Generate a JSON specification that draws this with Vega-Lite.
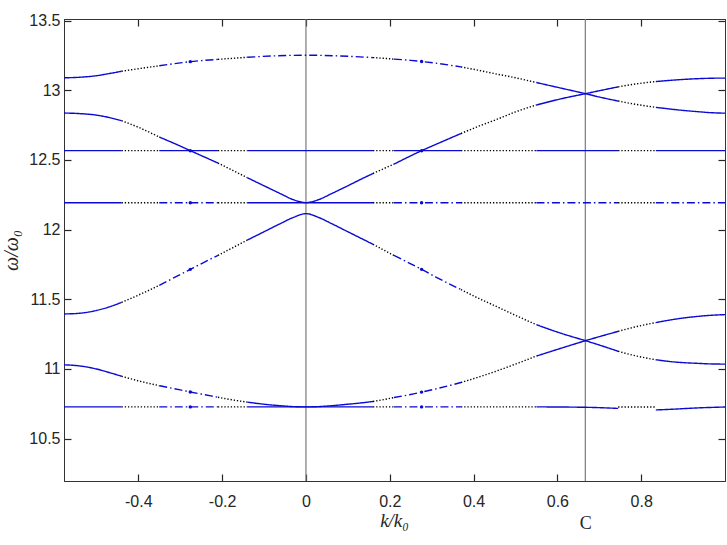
{
  "$schema": "https://vega.github.io/schema/vega-lite/v6.json",
  "width": 661,
  "height": 462,
  "autosize": {"type": "none"},
  "padding": {"left": 64, "top": 19, "right": 2, "bottom": 64},
  "background": "white",
  "datasets": {
    "bands": [
      {"c":"T","s":0,"m":"a","k":-0.57735,"w":13.090},{"c":"T","s":0,"m":"a","k":-0.54,"w":13.094},{"c":"T","s":0,"m":"a","k":-0.50,"w":13.105},{"c":"T","s":0,"m":"a","k":-0.47,"w":13.120},{"c":"T","s":0,"m":"a","k":-0.44,"w":13.137},
      {"c":"T","s":1,"m":"c","k":-0.44,"w":13.137},{"c":"T","s":1,"m":"c","k":-0.40,"w":13.155},{"c":"T","s":1,"m":"c","k":-0.35,"w":13.176},
      {"c":"T","s":2,"m":"b","k":-0.35,"w":13.176},{"c":"T","s":2,"m":"b","k":-0.30,"w":13.197},{"c":"T","s":2,"m":"b","k":-0.276,"w":13.206},{"c":"T","s":2,"m":"b","k":-0.25,"w":13.213},{"c":"T","s":2,"m":"b","k":-0.21,"w":13.222},
      {"c":"T","s":3,"m":"c","k":-0.21,"w":13.222},{"c":"T","s":3,"m":"c","k":-0.175,"w":13.230},{"c":"T","s":3,"m":"c","k":-0.14,"w":13.237},
      {"c":"T","s":4,"m":"b","k":-0.14,"w":13.237},{"c":"T","s":4,"m":"b","k":-0.07,"w":13.248},{"c":"T","s":4,"m":"b","k":0,"w":13.252},{"c":"T","s":4,"m":"b","k":0.07,"w":13.248},{"c":"T","s":4,"m":"b","k":0.16,"w":13.235},
      {"c":"T","s":5,"m":"c","k":0.16,"w":13.235},{"c":"T","s":5,"m":"c","k":0.185,"w":13.230},{"c":"T","s":5,"m":"c","k":0.21,"w":13.224},
      {"c":"T","s":6,"m":"b","k":0.21,"w":13.224},{"c":"T","s":6,"m":"b","k":0.25,"w":13.215},{"c":"T","s":6,"m":"b","k":0.276,"w":13.207},{"c":"T","s":6,"m":"b","k":0.31,"w":13.195},{"c":"T","s":6,"m":"b","k":0.37,"w":13.168},
      {"c":"T","s":7,"m":"c","k":0.37,"w":13.168},{"c":"T","s":7,"m":"c","k":0.41,"w":13.145},{"c":"T","s":7,"m":"c","k":0.45,"w":13.120},{"c":"T","s":7,"m":"c","k":0.50,"w":13.090},{"c":"T","s":7,"m":"c","k":0.55,"w":13.056},
      {"c":"T","s":8,"m":"a","k":0.55,"w":13.056},{"c":"T","s":8,"m":"a","k":0.61,"w":13.015},{"c":"T","s":8,"m":"a","k":0.667,"w":12.976},{"c":"T","s":8,"m":"a","k":0.70,"w":12.952},{"c":"T","s":8,"m":"a","k":0.745,"w":12.923},
      {"c":"T","s":9,"m":"c","k":0.745,"w":12.923},{"c":"T","s":9,"m":"c","k":0.79,"w":12.898},{"c":"T","s":9,"m":"c","k":0.835,"w":12.878},
      {"c":"T","s":10,"m":"a","k":0.835,"w":12.878},{"c":"T","s":10,"m":"a","k":0.88,"w":12.862},{"c":"T","s":10,"m":"a","k":0.93,"w":12.848},{"c":"T","s":10,"m":"a","k":0.97,"w":12.839},{"c":"T","s":10,"m":"a","k":1.0,"w":12.836},

      {"c":"B2","s":0,"m":"a","k":-0.57735,"w":12.837},{"c":"B2","s":0,"m":"a","k":-0.54,"w":12.833},{"c":"B2","s":0,"m":"a","k":-0.50,"w":12.822},{"c":"B2","s":0,"m":"a","k":-0.47,"w":12.805},{"c":"B2","s":0,"m":"a","k":-0.44,"w":12.782},
      {"c":"B2","s":1,"m":"c","k":-0.44,"w":12.782},{"c":"B2","s":1,"m":"c","k":-0.40,"w":12.735},{"c":"B2","s":1,"m":"c","k":-0.35,"w":12.665},
      {"c":"B2","s":2,"m":"a","k":-0.35,"w":12.665},{"c":"B2","s":2,"m":"a","k":-0.30,"w":12.600},{"c":"B2","s":2,"m":"a","k":-0.276,"w":12.567},{"c":"B2","s":2,"m":"a","k":-0.25,"w":12.532},{"c":"B2","s":2,"m":"a","k":-0.21,"w":12.478},
      {"c":"B2","s":3,"m":"c","k":-0.21,"w":12.478},{"c":"B2","s":3,"m":"c","k":-0.175,"w":12.426},{"c":"B2","s":3,"m":"c","k":-0.14,"w":12.373},
      {"c":"B2","s":4,"m":"a","k":-0.14,"w":12.373},{"c":"B2","s":4,"m":"a","k":-0.10,"w":12.315},{"c":"B2","s":4,"m":"a","k":-0.06,"w":12.257},{"c":"B2","s":4,"m":"a","k":-0.03,"w":12.215},{"c":"B2","s":4,"m":"a","k":0,"w":12.194},{"c":"B2","s":4,"m":"a","k":0.03,"w":12.215},{"c":"B2","s":4,"m":"a","k":0.06,"w":12.257},{"c":"B2","s":4,"m":"a","k":0.10,"w":12.315},{"c":"B2","s":4,"m":"a","k":0.13,"w":12.360},{"c":"B2","s":4,"m":"a","k":0.16,"w":12.403},
      {"c":"B2","s":5,"m":"c","k":0.16,"w":12.403},{"c":"B2","s":5,"m":"c","k":0.185,"w":12.437},{"c":"B2","s":5,"m":"c","k":0.21,"w":12.470},
      {"c":"B2","s":6,"m":"a","k":0.21,"w":12.470},{"c":"B2","s":6,"m":"a","k":0.25,"w":12.530},{"c":"B2","s":6,"m":"a","k":0.276,"w":12.567},{"c":"B2","s":6,"m":"a","k":0.31,"w":12.612},{"c":"B2","s":6,"m":"a","k":0.37,"w":12.690},
      {"c":"B2","s":7,"m":"c","k":0.37,"w":12.690},{"c":"B2","s":7,"m":"c","k":0.41,"w":12.740},{"c":"B2","s":7,"m":"c","k":0.45,"w":12.785},{"c":"B2","s":7,"m":"c","k":0.50,"w":12.845},{"c":"B2","s":7,"m":"c","k":0.55,"w":12.895},
      {"c":"B2","s":8,"m":"a","k":0.55,"w":12.895},{"c":"B2","s":8,"m":"a","k":0.61,"w":12.940},{"c":"B2","s":8,"m":"a","k":0.667,"w":12.976},{"c":"B2","s":8,"m":"a","k":0.70,"w":12.997},{"c":"B2","s":8,"m":"a","k":0.745,"w":13.025},
      {"c":"B2","s":9,"m":"c","k":0.745,"w":13.025},{"c":"B2","s":9,"m":"c","k":0.79,"w":13.047},{"c":"B2","s":9,"m":"c","k":0.835,"w":13.063},
      {"c":"B2","s":10,"m":"a","k":0.835,"w":13.063},{"c":"B2","s":10,"m":"a","k":0.88,"w":13.074},{"c":"B2","s":10,"m":"a","k":0.93,"w":13.083},{"c":"B2","s":10,"m":"a","k":0.97,"w":13.087},{"c":"B2","s":10,"m":"a","k":1.0,"w":13.088},

      {"c":"B5","s":0,"m":"a","k":-0.57735,"w":11.395},{"c":"B5","s":0,"m":"a","k":-0.54,"w":11.400},{"c":"B5","s":0,"m":"a","k":-0.50,"w":11.420},{"c":"B5","s":0,"m":"a","k":-0.47,"w":11.445},{"c":"B5","s":0,"m":"a","k":-0.44,"w":11.478},
      {"c":"B5","s":1,"m":"c","k":-0.44,"w":11.478},{"c":"B5","s":1,"m":"c","k":-0.40,"w":11.530},{"c":"B5","s":1,"m":"c","k":-0.35,"w":11.600},
      {"c":"B5","s":2,"m":"b","k":-0.35,"w":11.600},{"c":"B5","s":2,"m":"b","k":-0.30,"w":11.678},{"c":"B5","s":2,"m":"b","k":-0.276,"w":11.715},{"c":"B5","s":2,"m":"b","k":-0.25,"w":11.755},{"c":"B5","s":2,"m":"b","k":-0.21,"w":11.815},
      {"c":"B5","s":3,"m":"c","k":-0.21,"w":11.815},{"c":"B5","s":3,"m":"c","k":-0.175,"w":11.870},{"c":"B5","s":3,"m":"c","k":-0.14,"w":11.925},
      {"c":"B5","s":4,"m":"a","k":-0.14,"w":11.925},{"c":"B5","s":4,"m":"a","k":-0.10,"w":11.985},{"c":"B5","s":4,"m":"a","k":-0.06,"w":12.045},{"c":"B5","s":4,"m":"a","k":-0.03,"w":12.088},{"c":"B5","s":4,"m":"a","k":0,"w":12.115},{"c":"B5","s":4,"m":"a","k":0.03,"w":12.088},{"c":"B5","s":4,"m":"a","k":0.06,"w":12.045},{"c":"B5","s":4,"m":"a","k":0.10,"w":11.985},{"c":"B5","s":4,"m":"a","k":0.13,"w":11.940},{"c":"B5","s":4,"m":"a","k":0.16,"w":11.895},
      {"c":"B5","s":5,"m":"c","k":0.16,"w":11.895},{"c":"B5","s":5,"m":"c","k":0.185,"w":11.855},{"c":"B5","s":5,"m":"c","k":0.21,"w":11.815},
      {"c":"B5","s":6,"m":"b","k":0.21,"w":11.815},{"c":"B5","s":6,"m":"b","k":0.25,"w":11.755},{"c":"B5","s":6,"m":"b","k":0.276,"w":11.715},{"c":"B5","s":6,"m":"b","k":0.31,"w":11.660},{"c":"B5","s":6,"m":"b","k":0.37,"w":11.570},
      {"c":"B5","s":7,"m":"c","k":0.37,"w":11.570},{"c":"B5","s":7,"m":"c","k":0.41,"w":11.510},{"c":"B5","s":7,"m":"c","k":0.45,"w":11.455},{"c":"B5","s":7,"m":"c","k":0.50,"w":11.385},{"c":"B5","s":7,"m":"c","k":0.55,"w":11.318},
      {"c":"B5","s":8,"m":"a","k":0.55,"w":11.318},{"c":"B5","s":8,"m":"a","k":0.61,"w":11.255},{"c":"B5","s":8,"m":"a","k":0.667,"w":11.203},{"c":"B5","s":8,"m":"a","k":0.70,"w":11.172},{"c":"B5","s":8,"m":"a","k":0.745,"w":11.127},
      {"c":"B5","s":9,"m":"c","k":0.745,"w":11.127},{"c":"B5","s":9,"m":"c","k":0.79,"w":11.092},{"c":"B5","s":9,"m":"c","k":0.835,"w":11.066},
      {"c":"B5","s":10,"m":"a","k":0.835,"w":11.066},{"c":"B5","s":10,"m":"a","k":0.88,"w":11.050},{"c":"B5","s":10,"m":"a","k":0.93,"w":11.041},{"c":"B5","s":10,"m":"a","k":0.97,"w":11.036},{"c":"B5","s":10,"m":"a","k":1.0,"w":11.035},

      {"c":"B6","s":0,"m":"a","k":-0.57735,"w":11.030},{"c":"B6","s":0,"m":"a","k":-0.54,"w":11.022},{"c":"B6","s":0,"m":"a","k":-0.50,"w":11.000},{"c":"B6","s":0,"m":"a","k":-0.47,"w":10.975},{"c":"B6","s":0,"m":"a","k":-0.44,"w":10.948},
      {"c":"B6","s":1,"m":"c","k":-0.44,"w":10.948},{"c":"B6","s":1,"m":"c","k":-0.40,"w":10.915},{"c":"B6","s":1,"m":"c","k":-0.35,"w":10.880},
      {"c":"B6","s":2,"m":"b","k":-0.35,"w":10.880},{"c":"B6","s":2,"m":"b","k":-0.30,"w":10.850},{"c":"B6","s":2,"m":"b","k":-0.276,"w":10.835},{"c":"B6","s":2,"m":"b","k":-0.25,"w":10.820},{"c":"B6","s":2,"m":"b","k":-0.21,"w":10.797},
      {"c":"B6","s":3,"m":"c","k":-0.21,"w":10.797},{"c":"B6","s":3,"m":"c","k":-0.175,"w":10.778},{"c":"B6","s":3,"m":"c","k":-0.14,"w":10.762},
      {"c":"B6","s":4,"m":"a","k":-0.14,"w":10.762},{"c":"B6","s":4,"m":"a","k":-0.10,"w":10.747},{"c":"B6","s":4,"m":"a","k":-0.06,"w":10.736},{"c":"B6","s":4,"m":"a","k":-0.03,"w":10.730},{"c":"B6","s":4,"m":"a","k":0,"w":10.728},{"c":"B6","s":4,"m":"a","k":0.03,"w":10.730},{"c":"B6","s":4,"m":"a","k":0.06,"w":10.736},{"c":"B6","s":4,"m":"a","k":0.10,"w":10.747},{"c":"B6","s":4,"m":"a","k":0.13,"w":10.756},{"c":"B6","s":4,"m":"a","k":0.16,"w":10.767},
      {"c":"B6","s":5,"m":"c","k":0.16,"w":10.767},{"c":"B6","s":5,"m":"c","k":0.185,"w":10.780},{"c":"B6","s":5,"m":"c","k":0.21,"w":10.795},
      {"c":"B6","s":6,"m":"b","k":0.21,"w":10.795},{"c":"B6","s":6,"m":"b","k":0.25,"w":10.817},{"c":"B6","s":6,"m":"b","k":0.276,"w":10.834},{"c":"B6","s":6,"m":"b","k":0.31,"w":10.857},{"c":"B6","s":6,"m":"b","k":0.37,"w":10.903},
      {"c":"B6","s":7,"m":"c","k":0.37,"w":10.903},{"c":"B6","s":7,"m":"c","k":0.41,"w":10.940},{"c":"B6","s":7,"m":"c","k":0.45,"w":10.980},{"c":"B6","s":7,"m":"c","k":0.50,"w":11.035},{"c":"B6","s":7,"m":"c","k":0.55,"w":11.093},
      {"c":"B6","s":8,"m":"a","k":0.55,"w":11.093},{"c":"B6","s":8,"m":"a","k":0.61,"w":11.150},{"c":"B6","s":8,"m":"a","k":0.667,"w":11.203},{"c":"B6","s":8,"m":"a","k":0.70,"w":11.232},{"c":"B6","s":8,"m":"a","k":0.745,"w":11.270},
      {"c":"B6","s":9,"m":"c","k":0.745,"w":11.270},{"c":"B6","s":9,"m":"c","k":0.79,"w":11.305},{"c":"B6","s":9,"m":"c","k":0.835,"w":11.333},
      {"c":"B6","s":10,"m":"a","k":0.835,"w":11.333},{"c":"B6","s":10,"m":"a","k":0.88,"w":11.357},{"c":"B6","s":10,"m":"a","k":0.93,"w":11.376},{"c":"B6","s":10,"m":"a","k":0.97,"w":11.386},{"c":"B6","s":10,"m":"a","k":1.0,"w":11.390},

      {"c":"L1","s":0,"m":"a","k":-0.57735,"w":12.567},{"c":"L1","s":0,"m":"a","k":-0.44,"w":12.567},
      {"c":"L1","s":1,"m":"c","k":-0.44,"w":12.567},{"c":"L1","s":1,"m":"c","k":-0.35,"w":12.567},
      {"c":"L1","s":2,"m":"a","k":-0.35,"w":12.567},{"c":"L1","s":2,"m":"a","k":-0.21,"w":12.567},
      {"c":"L1","s":3,"m":"c","k":-0.21,"w":12.567},{"c":"L1","s":3,"m":"c","k":-0.14,"w":12.567},
      {"c":"L1","s":4,"m":"a","k":-0.14,"w":12.567},{"c":"L1","s":4,"m":"a","k":0.16,"w":12.567},
      {"c":"L1","s":5,"m":"c","k":0.16,"w":12.567},{"c":"L1","s":5,"m":"c","k":0.21,"w":12.567},
      {"c":"L1","s":6,"m":"a","k":0.21,"w":12.567},{"c":"L1","s":6,"m":"a","k":0.37,"w":12.567},
      {"c":"L1","s":7,"m":"c","k":0.37,"w":12.567},{"c":"L1","s":7,"m":"c","k":0.55,"w":12.567},
      {"c":"L1","s":8,"m":"a","k":0.55,"w":12.567},{"c":"L1","s":8,"m":"a","k":0.745,"w":12.567},
      {"c":"L1","s":9,"m":"c","k":0.745,"w":12.567},{"c":"L1","s":9,"m":"c","k":0.835,"w":12.567},
      {"c":"L1","s":10,"m":"a","k":0.835,"w":12.567},{"c":"L1","s":10,"m":"a","k":1.0,"w":12.567},

      {"c":"L2","s":0,"m":"a","k":-0.57735,"w":12.193},{"c":"L2","s":0,"m":"a","k":-0.44,"w":12.193},
      {"c":"L2","s":1,"m":"c","k":-0.44,"w":12.193},{"c":"L2","s":1,"m":"c","k":-0.35,"w":12.193},
      {"c":"L2","s":2,"m":"b","k":-0.35,"w":12.193},{"c":"L2","s":2,"m":"b","k":-0.21,"w":12.193},
      {"c":"L2","s":3,"m":"c","k":-0.21,"w":12.193},{"c":"L2","s":3,"m":"c","k":-0.14,"w":12.193},
      {"c":"L2","s":4,"m":"a","k":-0.14,"w":12.193},{"c":"L2","s":4,"m":"a","k":0.16,"w":12.193},
      {"c":"L2","s":5,"m":"c","k":0.16,"w":12.193},{"c":"L2","s":5,"m":"c","k":0.21,"w":12.193},
      {"c":"L2","s":6,"m":"b","k":0.21,"w":12.193},{"c":"L2","s":6,"m":"b","k":0.37,"w":12.193},
      {"c":"L2","s":7,"m":"c","k":0.37,"w":12.193},{"c":"L2","s":7,"m":"c","k":0.55,"w":12.193},
      {"c":"L2","s":8,"m":"b","k":0.55,"w":12.193},{"c":"L2","s":8,"m":"b","k":0.745,"w":12.193},
      {"c":"L2","s":9,"m":"c","k":0.745,"w":12.193},{"c":"L2","s":9,"m":"c","k":0.835,"w":12.193},
      {"c":"L2","s":10,"m":"b","k":0.835,"w":12.193},{"c":"L2","s":10,"m":"b","k":1.0,"w":12.193},

      {"c":"L3","s":0,"m":"a","k":-0.57735,"w":10.728},{"c":"L3","s":0,"m":"a","k":-0.44,"w":10.728},
      {"c":"L3","s":1,"m":"c","k":-0.44,"w":10.728},{"c":"L3","s":1,"m":"c","k":-0.35,"w":10.728},
      {"c":"L3","s":2,"m":"b","k":-0.35,"w":10.728},{"c":"L3","s":2,"m":"b","k":-0.21,"w":10.728},
      {"c":"L3","s":3,"m":"c","k":-0.21,"w":10.728},{"c":"L3","s":3,"m":"c","k":-0.14,"w":10.728},
      {"c":"L3","s":4,"m":"a","k":-0.14,"w":10.728},{"c":"L3","s":4,"m":"a","k":0.16,"w":10.728},
      {"c":"L3","s":5,"m":"c","k":0.16,"w":10.728},{"c":"L3","s":5,"m":"c","k":0.21,"w":10.728},
      {"c":"L3","s":6,"m":"b","k":0.21,"w":10.728},{"c":"L3","s":6,"m":"b","k":0.37,"w":10.728},
      {"c":"L3","s":7,"m":"c","k":0.37,"w":10.728},{"c":"L3","s":7,"m":"c","k":0.55,"w":10.728},
      {"c":"L3","s":8,"m":"a","k":0.55,"w":10.728},{"c":"L3","s":8,"m":"a","k":0.667,"w":10.725},{"c":"L3","s":8,"m":"a","k":0.745,"w":10.717},
      {"c":"L3","s":9,"m":"c","k":0.745,"w":10.727},{"c":"L3","s":9,"m":"c","k":0.835,"w":10.727},
      {"c":"L3","s":10,"m":"a","k":0.835,"w":10.706},{"c":"L3","s":10,"m":"a","k":0.88,"w":10.712},{"c":"L3","s":10,"m":"a","k":0.93,"w":10.720},{"c":"L3","s":10,"m":"a","k":1.0,"w":10.727}
    ],
    "dots": [
      {"k":-0.276,"w":13.206},{"k":-0.276,"w":12.567},{"k":-0.276,"w":12.193},{"k":-0.276,"w":11.715},{"k":-0.276,"w":10.835},{"k":-0.276,"w":10.728},
      {"k":0.276,"w":13.207},{"k":0.276,"w":12.567},{"k":0.276,"w":12.193},{"k":0.276,"w":11.715},{"k":0.276,"w":10.834},{"k":0.276,"w":10.728}
    ],
    "lines": [{"k":0},{"k":0.66667}]
  },
  "layer": [
    {
      "data": {"name": "lines"},
      "mark": {"type": "rule", "color": "#7a7a7a", "strokeWidth": 1.2},
      "encoding": {
        "x": {"field": "k", "type": "quantitative", "scale": {"domain": [-0.57735, 1.0], "nice": false, "zero": false}, "axis": null}
      }
    },
    {
      "data": {"name": "bands"},
      "mark": {"type": "line", "interpolate": "monotone", "strokeCap": "butt"},
      "encoding": {
        "x": {
          "field": "k", "type": "quantitative",
          "scale": {"domain": [-0.57735, 1.0], "nice": false, "zero": false},
          "axis": {
            "orient": "bottom",
            "values": [-0.4, -0.2, 0, 0.2, 0.4, 0.6, 0.66667, 0.8],
            "labelExpr": "datum.value > 0.65 && datum.value < 0.7 ? 'C' : '' + datum.value",
            "labelFont": {"condition": {"test": "datum.value > 0.65 && datum.value < 0.7", "value": "Liberation Serif"}, "value": "Liberation Sans"},
            "labelFontSize": {"condition": {"test": "datum.value > 0.65 && datum.value < 0.7", "value": 18}, "value": 16},
            "labelPadding": {"condition": {"test": "datum.value > 0.65 && datum.value < 0.7", "value": 40}, "value": 19},
            "tickOpacity": {"condition": {"test": "datum.value > 0.65 && datum.value < 0.7", "value": 0}, "value": 1},
            "labelOverlap": false,
            "labelBaseline": "top",
            "ticks": true,
            "tickSize": -7,
            "tickColor": "#262626",
            "tickWidth": 1.2,
            "grid": false,
            "title": "k/k₀",
            "titleFont": "Liberation Serif",
            "titleFontStyle": "italic",
            "titleFontWeight": "normal",
            "titleFontSize": 19,
            "titleBaseline": "alphabetic",
            "titleX": 330,
            "titleY": 45
          }
        },
        "y": {
          "field": "w", "type": "quantitative",
          "scale": {"domain": [10.196, 13.512], "nice": false, "zero": false},
          "axis": {
            "orient": "left",
            "values": [10.5, 11, 11.5, 12, 12.5, 13, 13.5],
            "labelExpr": "'' + datum.value",
            "labelFont": "Liberation Sans",
            "labelFontSize": 16,
            "labelPadding": 11,
            "ticks": true,
            "tickSize": -7,
            "tickColor": "#262626",
            "tickWidth": 1.2,
            "grid": false,
            "title": "ω/ω₀",
            "titleFont": "Liberation Serif",
            "titleFontStyle": "italic",
            "titleFontWeight": "normal",
            "titleFontSize": 20,
            "titleAngle": 270,
            "titleBaseline": "alphabetic",
            "titleAlign": "center",
            "titleX": -47,
            "titleY": 231
          }
        },
        "detail": [{"field": "c"}, {"field": "s"}],
        "color": {"field": "m", "type": "nominal", "scale": {"domain": ["a", "b", "c"], "range": ["#0a0ad2", "#0a0ad2", "#000000"]}, "legend": null},
        "strokeDash": {"field": "m", "type": "nominal", "scale": {"domain": ["a", "b", "c"], "range": [[1, 0], [8, 3, 1.5, 3], [1.3, 1.9]]}, "legend": null},
        "strokeWidth": {"field": "m", "type": "ordinal", "scale": {"domain": ["a", "b", "c"], "range": [1.4, 1.4, 1.2]}, "legend": null}
      }
    },
    {
      "data": {"name": "dots"},
      "mark": {"type": "point", "filled": true, "size": 12, "color": "#0a0ad2", "opacity": 1},
      "encoding": {
        "x": {
          "field": "k", "type": "quantitative",
          "scale": {"domain": [-0.57735, 1.0], "nice": false, "zero": false},
          "axis": {"orient": "top", "values": [-0.4, -0.2, 0, 0.2, 0.4, 0.6, 0.8], "labels": false, "domain": true, "ticks": true, "tickSize": -7, "tickColor": "#262626", "tickWidth": 1.2, "grid": false, "title": null}
        },
        "y": {
          "field": "w", "type": "quantitative",
          "scale": {"domain": [10.196, 13.512], "nice": false, "zero": false},
          "axis": {"orient": "right", "values": [10.5, 11, 11.5, 12, 12.5, 13, 13.5], "labels": false, "domain": true, "ticks": true, "tickSize": -7, "tickColor": "#262626", "tickWidth": 1.2, "grid": false, "title": null}
        }
      }
    }
  ],
  "resolve": {"axis": {"x": "independent", "y": "independent"}},
  "config": {
    "view": {"stroke": "#333333", "strokeWidth": 1},
    "axis": {
      "domainColor": "#333333",
      "domainWidth": 1,
      "labelColor": "#262626",
      "titleColor": "#262626"
    }
  }
}
